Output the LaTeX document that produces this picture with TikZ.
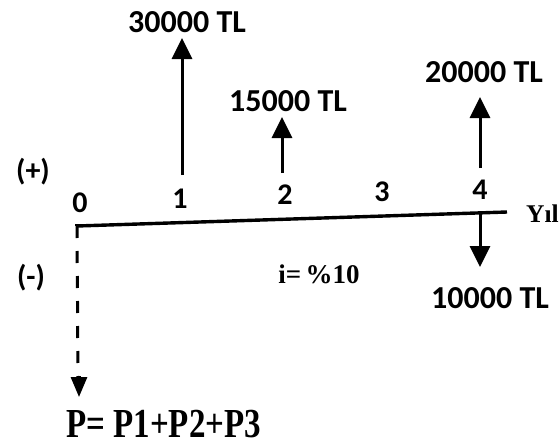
\documentclass[tikz,border=0pt]{standalone}
\usepackage{fontspec}
\setmainfont{Liberation Serif}
\newfontfamily\lblfont{Carlito}
\usetikzlibrary{arrows.meta}
\tikzset{
  lbl/.style={font=\lblfont\bfseries\fontsize{32}{33}\selectfont, inner sep=0pt},
  tick/.style={font=\lblfont\bfseries\fontsize{30}{31}\selectfont, inner sep=0pt},
  serif/.style={font=\bfseries\fontsize{25.5}{27}\selectfont, inner sep=0pt},
  axis/.style={line width=3.4pt},
  flow/.style={line width=3pt, -{Triangle[width=20pt,length=21pt]}},
  dashline/.style={line width=3pt, dash pattern=on 12pt off 13pt},
}
\begin{document}
\begin{tikzpicture}[x=1pt,y=-1pt]
\useasboundingbox (0,0) rectangle (560,447);
% axis
\coordinate (a0) at (77,226);
\coordinate (aend) at (507,212);
\coordinate (b1) at (182,175);
\coordinate (b2) at (282,173);
\coordinate (b4) at (480,168);
\coordinate (d4) at (480,213);
\coordinate (dend) at (78,377);
\draw[axis] (a0) -- (aend);
\draw[line width=3.4pt] (a0) -- ++(0,-1.7);
% tick labels
\node[tick] (n0) at (80,203) {0};
\node[tick] (n1) at (180,199) {1};
\node[tick] (n2) at (285,195) {2};
\node[tick] (n3) at (382,192) {3};
\node[tick] (n4) at (480,190) {4};
\node[serif, anchor=west] (yil) at (526,214) {Yıl};
% signs
\node[tick] (plus) at (33,172) {(+)};
\node[tick] (minus) at (31,278) {(-)};
% amounts
\node[lbl] (c1) at (187,22) {30000 TL};
\node[lbl] (c2) at (288,101) {15000 TL};
\node[lbl] (c4) at (484,72) {20000 TL};
\node[lbl] (c4d) at (490,298) {10000 TL};
\coordinate (t1) at (182,38);
\coordinate (t2) at (282,117);
\coordinate (t4) at (480,97);
\coordinate (t4d) at (480,267);
\draw[flow] (b1) -- (t1);
\draw[flow] (b2) -- (t2);
\draw[flow] (b4) -- (t4);
\draw[flow] (d4) -- (t4d);
% interest
\node[font=\bfseries\fontsize{27}{28}\selectfont, inner sep=0pt] (rate) at (319,274) {i=\,\%10};
% dashed present value
\draw[dashline] (a0) -- (dend);
\coordinate (ptip) at (79,397);
\draw[line width=3pt, -{Triangle[width=16pt,length=20pt]}] (79,376) -- (ptip);
\node[inner sep=0pt, anchor=west] (pv) at (66,424) {\scalebox{1}[1.25]{\bfseries\fontsize{33}{34}\selectfont P= P1+P2+P3}};
\end{tikzpicture}
\end{document}
